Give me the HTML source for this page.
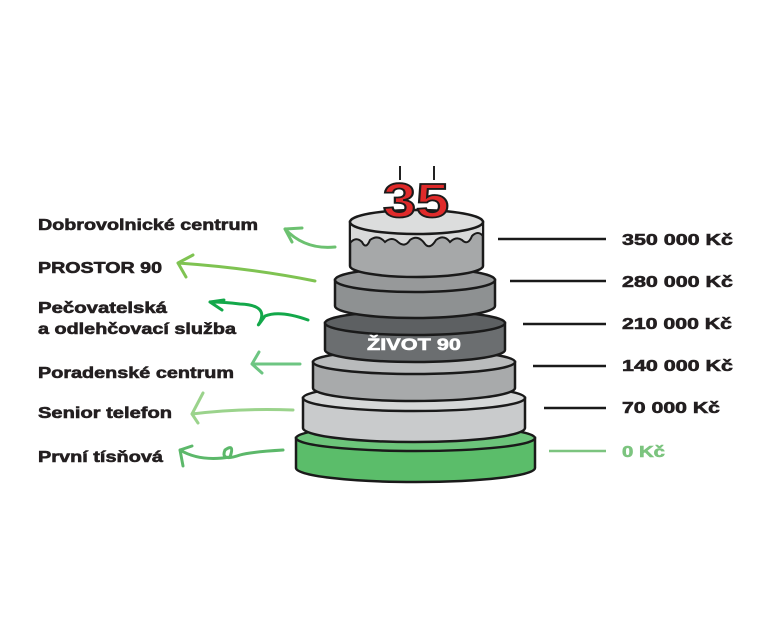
<!DOCTYPE html>
<html><head><meta charset="utf-8"><style>
html,body{margin:0;padding:0;background:#fff;}
svg{display:block;}
text{font-family:"Liberation Sans",sans-serif;font-weight:bold;fill:#231f20;font-size:16px;stroke:#231f20;stroke-width:0.6;}
</style></head><body>
<svg width="783" height="642" viewBox="0 0 783 642" xmlns="http://www.w3.org/2000/svg">
<g stroke="#1a1a1a" stroke-width="2.5">
<path d="M296,438 L296,468 A119.5,14 0 0 0 535,468 L535,438 Z" fill="#5bbd6a"/>
<ellipse cx="415.5" cy="438" rx="119.5" ry="13" fill="#6cc47a"/>
<path d="M303,398 L303,428 A111,14 0 0 0 525,428 L525,398 Z" fill="#c9cbcc"/>
<ellipse cx="414" cy="398" rx="111" ry="13" fill="#d6d8d8"/>
<path d="M313,362 L313,388 A101,13 0 0 0 515,388 L515,362 Z" fill="#a8aaab"/>
<ellipse cx="414" cy="362" rx="101" ry="12" fill="#b9bbbc"/>
<path d="M325,323 L325,350 A90,12 0 0 0 505,350 L505,323 Z" fill="#6b6e70"/>
<ellipse cx="415" cy="323" rx="90" ry="12" fill="#5d6062"/>
<path d="M335,280 L335,306 A80,12 0 0 0 495,306 L495,280 Z" fill="#8e9192"/>
<ellipse cx="415" cy="280" rx="80" ry="12" fill="#97999a"/>
<path d="M350,222 L350,266 A66.5,11 0 0 0 483,266 L483,222 Z" fill="#a6a8a9"/>
<path d="M350,222 L350,243 Q356,236 362,242 Q366,250 370,240 Q378,234 385,242 Q392,236 398,242 Q405,248 410,240 Q418,234 425,244 Q430,250 436,240 Q444,234 450,242 Q456,236 462,240 Q468,246 472,236 Q478,230 483,236 L483,222 Z" fill="#d9dada" stroke-width="2"/>
<ellipse cx="416.5" cy="222" rx="66.5" ry="12" fill="#dcdddd"/>
</g>
<text x="367" y="350" textLength="94" lengthAdjust="spacingAndGlyphs" style="fill:#fff;stroke:#fff;font-size:17px">ŽIVOT 90</text>
<line x1="400" y1="166" x2="400" y2="180" stroke="#222" stroke-width="2"/>
<line x1="434" y1="166" x2="434" y2="180" stroke="#222" stroke-width="2"/>
<text x="383" y="217" textLength="66" lengthAdjust="spacingAndGlyphs" style="font-size:48px;fill:#e02a2a;stroke:#1a1a1a;stroke-width:1.8">35</text>
<text x="38" y="230" textLength="220" lengthAdjust="spacingAndGlyphs">Dobrovolnické centrum</text>
<text x="38" y="273" textLength="124" lengthAdjust="spacingAndGlyphs">PROSTOR 90</text>
<text x="38" y="313" textLength="129" lengthAdjust="spacingAndGlyphs">Pečovatelská</text>
<text x="38" y="334" textLength="198" lengthAdjust="spacingAndGlyphs">a odlehčovací služba</text>
<text x="38" y="378" textLength="196" lengthAdjust="spacingAndGlyphs">Poradenské centrum</text>
<text x="38" y="418" textLength="134" lengthAdjust="spacingAndGlyphs">Senior telefon</text>
<text x="38" y="462" textLength="125" lengthAdjust="spacingAndGlyphs">První tísňová</text>
<g stroke="#1a1a1a" stroke-width="2.5">
<line x1="498" y1="239" x2="606" y2="239"/>
<line x1="510" y1="281" x2="606" y2="281"/>
<line x1="523" y1="324" x2="606" y2="324"/>
<line x1="533" y1="366" x2="606" y2="366"/>
<line x1="544" y1="408" x2="606" y2="408"/>
<line x1="549" y1="451" x2="606" y2="451" stroke="#7cc47f"/>
</g>
<text x="622" y="245" textLength="111" lengthAdjust="spacingAndGlyphs">350 000 Kč</text>
<text x="622" y="287" textLength="111" lengthAdjust="spacingAndGlyphs">280 000 Kč</text>
<text x="622" y="329" textLength="110" lengthAdjust="spacingAndGlyphs">210 000 Kč</text>
<text x="622" y="371" textLength="111" lengthAdjust="spacingAndGlyphs">140 000 Kč</text>
<text x="622" y="413" textLength="98" lengthAdjust="spacingAndGlyphs">70 000 Kč</text>
<text x="622" y="457" textLength="43" lengthAdjust="spacingAndGlyphs" style="fill:#7cc47f;stroke:#7cc47f">0 Kč</text>
<g fill="none" stroke-width="3" stroke-linecap="round" stroke-linejoin="round">
<path d="M335,247 Q305,250 285,229 M285,229 L302,228 M285,229 L292,242" stroke="#6cc170"/>
<path d="M315,281 Q250,268 178,263 M178,263 L193,255 M178,263 L186,277" stroke="#7fc352"/>
<path d="M308,320 Q280,310 265,316 Q255,330 260,322 Q268,305 240,304 Q225,302 210,302 M210,302 L224,300 M210,302 L222,310" stroke="#13a84a"/>
<path d="M300,364 L252,364 M252,364 L259,352 M252,364 L262,373" stroke="#6dc582"/>
<path d="M293,410 Q240,408 192,414 M192,414 L203,393 M192,414 L198,423" stroke="#9bd38c"/>
<path d="M283,450 Q250,452 240,455 Q220,462 225,450 Q235,443 230,457 Q200,462 180,450 M180,450 L192,446 M180,450 L183,466" stroke="#5cb86a"/>
</g>
</svg>
</body></html>
